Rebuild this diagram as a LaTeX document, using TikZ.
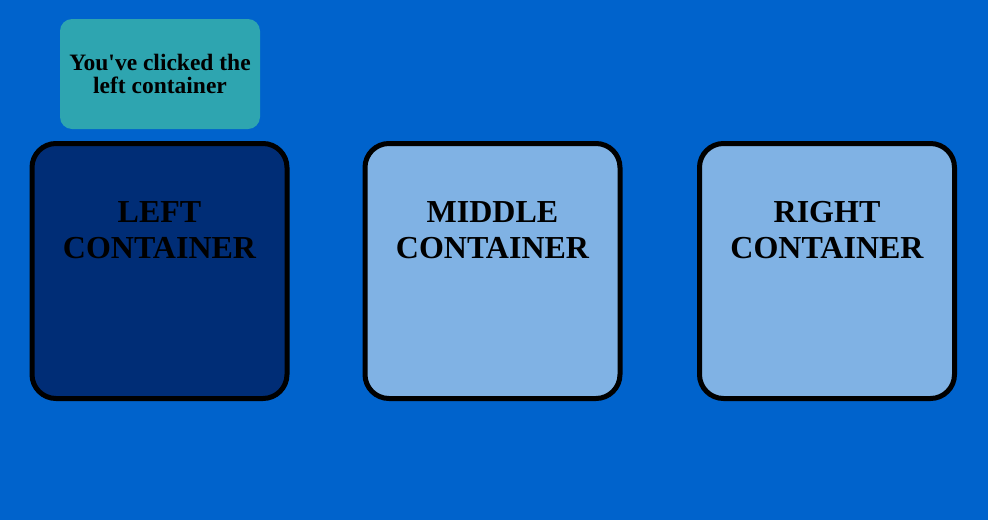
\documentclass[tikz,border=0pt]{standalone}
\usepackage{fontspec}
\setmainfont{Liberation Serif}
\usetikzlibrary{positioning}
\definecolor{pageblue}{RGB}{0,99,204}
\definecolor{navybox}{RGB}{0,45,118}
\definecolor{lightbox}{RGB}{128,178,228}
\definecolor{tealtip}{RGB}{46,165,176}
\begin{document}
\begin{tikzpicture}[x=1pt, y=-1pt, outer sep=0pt, inner sep=0pt,
    container/.style={draw=black, line width=5pt, rounded corners=24pt,
        minimum width=255pt, minimum height=255pt},
    boxtitle/.style={align=center, font=\fontsize{32}{36}\selectfont\bfseries},
    tip/.style={fill=tealtip, rounded corners=12pt, minimum width=200pt,
        minimum height=110pt, align=center,
        font=\fontsize{23.5}{23.5}\selectfont\bfseries}]
    \useasboundingbox (0,0) rectangle (988,520);
    \fill[pageblue] (0,0) rectangle (988,520);
    \foreach [count=\i] \x/\col/\word in {159.5/navybox/LEFT, 492.5/lightbox/MIDDLE, 827/lightbox/RIGHT}{
        \node[container, fill=\col] (box\i) at (\x,271) {};
        \node[boxtitle, below=58pt of box\i.north] (title\i) {\word\\CONTAINER};
    }
    \node[tip] (tip) at (160,74) {You\textquotesingle ve clicked the\\left container};
\end{tikzpicture}
\end{document}
